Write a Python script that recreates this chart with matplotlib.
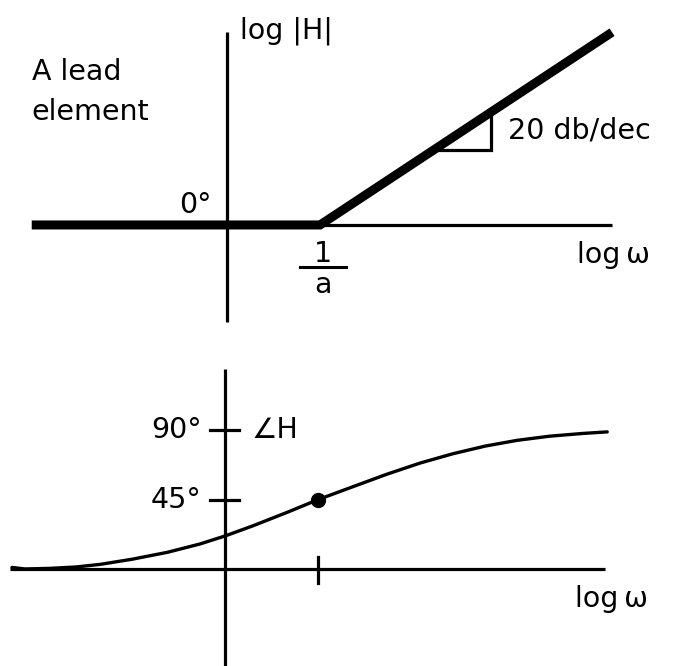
import matplotlib
matplotlib.use('Agg')
import matplotlib.pyplot as plt

plt.rcParams['font.family'] = ['DejaVu Sans']

# Magnitude asymptote of a lead element (log w in decades, |H| in dB)
mag_logw = [-2.10, 1.00, 4.14]
mag_db = [0.0, 0.0, 62.8]
corner_logw = 1.0

# Phase curve read along log w (degrees)
phase_logw = [-2.29, -2.15, -1.88, -1.60, -1.34, -1.00, -0.62, -0.27, 0.00,
              0.30, 0.67, 1.00, 1.38, 1.74, 2.10, 2.45, 2.80, 3.14, 3.49,
              3.85, 4.11]
phase_deg = [1.0, 0.0, 0.4, 1.3, 3.0, 6.3, 10.8, 16.2, 21.4,
             28.0, 36.8, 45.0, 53.5, 61.5, 68.8, 74.8, 79.8, 83.5, 86.2,
             88.0, 89.0]
phase_ticks = [90, 45]
phase_tick_labels = ['90°', '45°']
mid_phase = 45.0

FS = 20.5
THIN = 2.3

fig = plt.figure(figsize=(6.74, 6.66), dpi=100)
fig.patch.set_facecolor('white')

# ---- magnitude panel ----
ax1 = fig.add_axes([0, 0.5, 1, 0.5])
ax1.set_xlim(-2.441, 4.806)
ax1.set_ylim(-35.2, 73.3)
ax1.axis('off')

ax1.plot([0, 0], [62.9, -31.6], color='black', lw=THIN, solid_capstyle='butt')
ax1.plot([mag_logw[0], mag_logw[-1]], [0, 0], color='black', lw=THIN,
         solid_capstyle='butt')
ax1.plot(mag_logw, mag_db, color='black', lw=6.5, solid_capstyle='butt',
         solid_joinstyle='miter')

# slope triangle under the rising asymptote
tri_y = 24.4
tri_x0 = corner_logw + tri_y / 20.0
tri_x1 = 2.84
tri_top = (tri_x1 - corner_logw) * 20.0
ax1.plot([tri_x0, tri_x1, tri_x1], [tri_y, tri_y, tri_top], color='black',
         lw=THIN, solid_joinstyle='miter')

ax1.text(0.14, 60.6, 'log |H|', fontsize=FS, ha='left', va='baseline')
ax1.text(-2.10, 47.2, 'A lead', fontsize=FS, ha='left', va='baseline')
ax1.text(-2.10, 34.2, 'element', fontsize=FS, ha='left', va='baseline')
ax1.text(-0.17, 3.9, '0°', fontsize=FS, ha='right', va='baseline')
ax1.text(3.02, 28.3, '20 db/dec', fontsize=FS, ha='left', va='baseline')
ax1.text(3.76, -12.4, 'log\u2009ω', fontsize=FS, ha='left', va='baseline')

# 1/a label under the corner
ax1.text(1.03, -12.1, '1', fontsize=FS, ha='center', va='baseline')
ax1.plot([0.78, 1.28], [-13.7, -13.7], color='black', lw=2.2)
ax1.text(1.03, -22.1, 'a', fontsize=FS, ha='center', va='baseline')

# ---- phase panel ----
ax2 = fig.add_axes([0, 0, 1, 0.5])
ax2.set_xlim(-2.419, 4.828)
ax2.set_ylim(-63.0, 153.2)
ax2.axis('off')

ax2.plot([0, 0], [129.9, -63.0], color='black', lw=THIN, solid_capstyle='butt')
ax2.plot([-2.31, 4.09], [0, 0], color='black', lw=THIN, solid_capstyle='butt')
for t, lab in zip(phase_ticks, phase_tick_labels):
    ax2.plot([-0.16, 0.15], [t, t], color='black', lw=THIN)
    ax2.text(-0.25, t, lab, fontsize=FS, ha='right', va='center')
ax2.plot([corner_logw, corner_logw], [7.8, -9.1], color='black', lw=THIN)

ax2.plot(phase_logw, phase_deg, color='black', lw=2.4, solid_capstyle='round',
         solid_joinstyle='round')
ax2.plot([corner_logw], [mid_phase], 'o', color='black', markersize=10)

ax2.text(0.29, 90, '∠H', fontsize=FS, ha='left', va='center')
ax2.text(3.76, -24.7, 'log\u2009ω', fontsize=FS, ha='left', va='baseline')

fig.savefig('out.png', dpi=100, facecolor='white')
